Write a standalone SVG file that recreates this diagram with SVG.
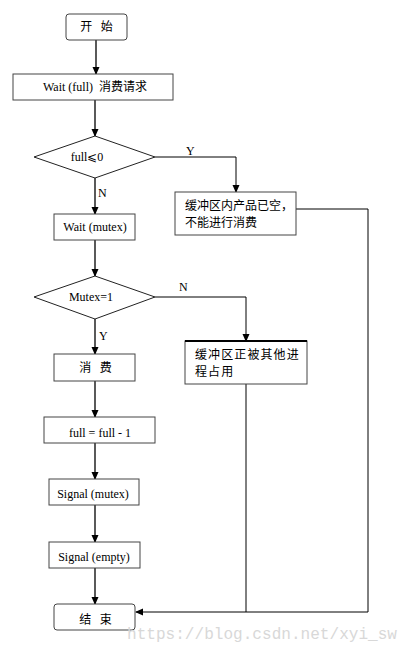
<svg xmlns="http://www.w3.org/2000/svg" width="407" height="653" viewBox="0 0 407 653">
<defs>
<marker id="ah" markerWidth="8" markerHeight="8" refX="7" refY="4" orient="auto" markerUnits="userSpaceOnUse">
<path d="M0,0.5 L8,4 L0,7.5 Z" fill="#000"/>
</marker>
<style>
.box{fill:#fff;stroke:#444;stroke-width:1}
.dia{fill:#fff;stroke:#222;stroke-width:1}
.ln{fill:none;stroke:#000;stroke-width:1.3}
.ln2{fill:none;stroke:#000;stroke-width:1}
.en{font-family:"Liberation Serif","Times New Roman",serif;font-size:12px;fill:#000}
.zh{font-family:"Noto Sans CJK SC","Noto Sans",sans-serif;font-size:12px;fill:#000}
.c{text-anchor:middle}
.sp{letter-spacing:3px}
</style>
</defs>
<rect width="407" height="653" fill="#fff"/>
<g id="connectors">
<line class="ln" x1="96" y1="40" x2="96" y2="74" marker-end="url(#ah)"/>
<line class="ln" x1="95" y1="100" x2="95" y2="136" marker-end="url(#ah)"/>
<polyline class="ln2" points="155,157 236,157 236,192" marker-end="url(#ah)"/>
<line class="ln" x1="95" y1="178" x2="95" y2="214" marker-end="url(#ah)"/>
<line class="ln" x1="95" y1="240" x2="95" y2="276" marker-end="url(#ah)"/>
<polyline class="ln2" points="155,297 246,297 246,341" marker-end="url(#ah)"/>
<line class="ln" x1="95" y1="319" x2="95" y2="354" marker-end="url(#ah)"/>
<line class="ln" x1="95" y1="381" x2="95" y2="417" marker-end="url(#ah)"/>
<line class="ln" x1="95" y1="443" x2="95" y2="479" marker-end="url(#ah)"/>
<line class="ln" x1="95" y1="505" x2="95" y2="542" marker-end="url(#ah)"/>
<line class="ln" x1="95" y1="568" x2="95" y2="604" marker-end="url(#ah)"/>
<polyline class="ln2" points="296,209 368,209 368,612 136,612" marker-end="url(#ah)"/>
<line class="ln2" x1="246" y1="384" x2="246" y2="612"/>
<text class="en" x="186" y="155">Y</text>
<text class="en" x="98" y="197">N</text>
<text class="en" x="179" y="291">N</text>
<text class="en" x="99" y="340">Y</text>
</g>
<g id="start">
<rect class="box" x="66" y="14" width="61" height="26" rx="3"/>
<text class="zh c sp" x="98" y="31">开 始</text>
</g>
<g id="wait-full">
<rect class="box" x="13" y="74" width="160" height="26"/>
<text x="43" y="91"><tspan class="en" font-size="11">Wait (full)</tspan><tspan class="zh" dx="6">消费请求</tspan></text>
</g>
<g id="dec-full">
<polygon class="dia" points="34,157 95,136 155,157 95,178"/>
<text class="en c" x="87" y="161">full⩽0</text>
</g>
<g id="empty-msg">
<rect class="box" x="175" y="192" width="121" height="43"/>
<text class="zh" x="185" y="210">缓冲区内产品已空，</text>
<text class="zh" x="185" y="227">不能进行消费</text>
</g>
<g id="wait-mutex">
<rect class="box" x="54" y="214" width="81" height="26"/>
<text class="en c" x="95" y="231" font-size="11.5">Wait (mutex)</text>
</g>
<g id="dec-mutex">
<polygon class="dia" points="34,297 95,276 155,297 95,319"/>
<text class="en c" x="91" y="301">Mutex=1</text>
</g>
<g id="busy-msg">
<rect class="box" x="185" y="341" width="122" height="43"/>
<line x1="185" y1="341" x2="307" y2="341" stroke="#000" stroke-width="2"/>
<text class="zh" x="195" y="359" letter-spacing="1.1">缓冲区正被其他进</text>
<text class="zh" x="195" y="376" letter-spacing="1.1">程占用</text>
</g>
<g id="consume">
<rect class="box" x="54" y="354" width="81" height="27"/>
<text class="zh c sp" x="97" y="372">消 费</text>
</g>
<g id="dec-full-op">
<rect class="box" x="44" y="417" width="111" height="26"/>
<text class="en c" x="100" y="437">full = full - 1</text>
</g>
<g id="signal-mutex">
<rect class="box" x="49" y="479" width="90" height="26"/>
<text class="en c" x="93" y="498">Signal (mutex)</text>
</g>
<g id="signal-empty">
<rect class="box" x="49" y="542" width="91" height="26"/>
<text class="en c" x="94" y="561">Signal (empty)</text>
</g>
<g id="end">
<rect class="box" x="54" y="604" width="81" height="26" rx="3"/>
<text class="zh c sp" x="97" y="624">结 束</text>
</g>
<text x="127" y="639" font-family="Liberation Mono,monospace" font-size="16" fill="#d8d8d8" textLength="270" lengthAdjust="spacingAndGlyphs">https://blog.csdn.net/xyi_sw</text>
</svg>
